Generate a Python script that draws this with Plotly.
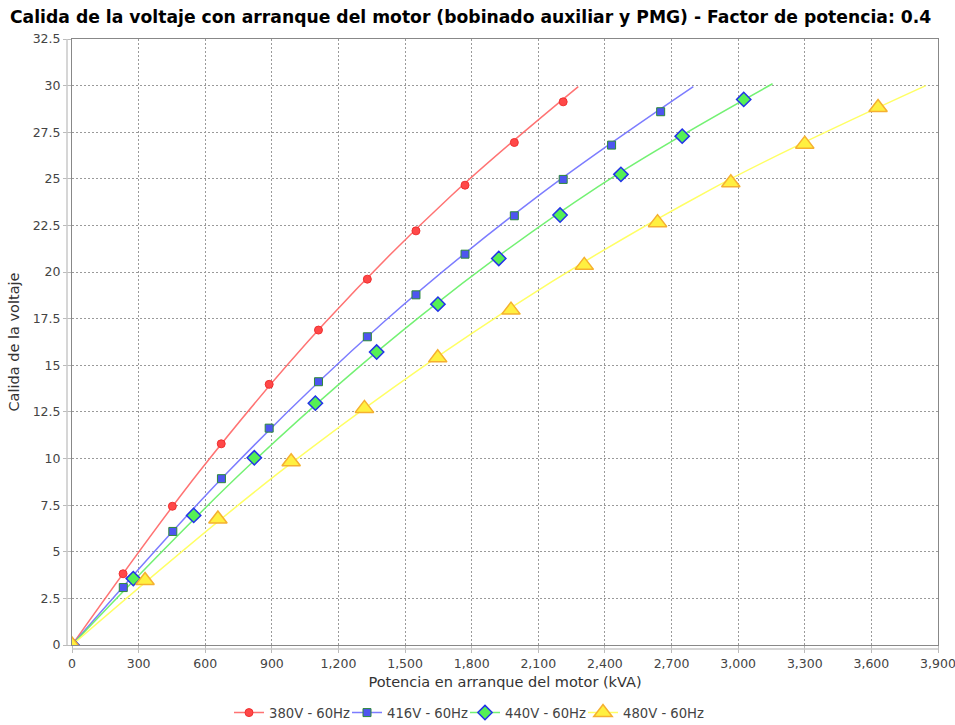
import plotly.graph_objects as go

# ---- data ----
series_names = ["380V - 60Hz", "416V - 60Hz", "440V - 60Hz", "480V - 60Hz"]

x_380 = [0, 230, 452, 672, 888, 1110, 1330, 1549, 1770, 1992, 2212]
y_380 = [0, 3.82, 7.44, 10.79, 13.98, 16.89, 19.62, 22.21, 24.66, 26.95, 29.13]

x_416 = [0, 231, 454, 673, 888, 1110, 1330, 1549, 1770, 1992, 2212, 2430, 2651]
y_416 = [0, 3.08, 6.09, 8.92, 11.63, 14.12, 16.53, 18.78, 20.96, 23.02, 24.97, 26.81, 28.60]

x_440 = [0, 276, 548, 821, 1096, 1372, 1648, 1922, 2198, 2472, 2748, 3025]
y_440 = [0, 3.56, 6.95, 10.04, 12.97, 15.71, 18.28, 20.73, 23.06, 25.24, 27.29, 29.26]

x_480 = [0, 329, 657, 987, 1317, 1647, 1977, 2307, 2637, 2967, 3300, 3630]
y_480 = [0, 3.46, 6.76, 9.83, 12.69, 15.40, 17.96, 20.36, 22.65, 24.79, 26.86, 28.83]

# trend curves
cx_380 = [0, 570, 1140, 1710, 2280]
cy_380 = [0, 9.25, 17.29, 24.12, 29.95]
cx_416 = [0, 700, 1400, 2100, 2798]
cy_416 = [0, 9.25, 17.28, 24.09, 29.95]
cx_440 = [0, 789, 1578, 2366, 3155]
cy_440 = [0, 9.53, 17.72, 24.56, 30.10]
cx_480 = [0, 961, 1922, 2884, 3845]
cy_480 = [0, 9.51, 17.67, 24.48, 30.0]

x_ticks = list(range(0, 3901, 300))
y_ticks = [i * 2.5 for i in range(14)]

# ---- styles ----
FONT = "DejaVu Sans"
line_colors = ["rgba(255,100,100,0.9)", "rgba(110,110,255,0.9)", "rgba(100,240,100,0.9)", "rgba(255,255,100,1)"]
fill_colors = ["#FF4848", "#4E55F0", "#55F055", "#FFF040"]
edge_colors = ["#F03030", "#2E8A3A", "#2233E8", "#F5B030"]
symbols = ["circle", "square", "diamond", "triangle-up"]
sizes = [8, 8, 11, 16]
edge_w = [1, 1, 1.5, 1.5]
legend_widths = [73, 73, 73, 92]

pts = [(x_380, y_380), (x_416, y_416), (x_440, y_440), (x_480, y_480)]
curves = [(cx_380, cy_380), (cx_416, cy_416), (cx_440, cy_440), (cx_480, cy_480)]

fig = go.Figure()
for i in range(4):
    cx, cy = curves[i]
    fig.add_trace(go.Scatter(x=cx, y=cy, mode="lines", line=dict(color=line_colors[i], width=1.5, shape="spline"),
                             showlegend=False, hoverinfo="skip"))
for i in range(4):
    px, py = pts[i]
    fig.add_trace(go.Scatter(x=px, y=py, mode="markers", showlegend=False,
                             marker=dict(symbol=symbols[i], size=sizes[i], color=fill_colors[i],
                                         line=dict(color=edge_colors[i], width=edge_w[i]))))
# legend entries
for i in range(4):
    fig.add_trace(go.Scatter(x=[None], y=[None], mode="lines+markers", name=series_names[i],
                             legendwidth=legend_widths[i],
                             line=dict(color=line_colors[i], width=1.5),
                             marker=dict(symbol=symbols[i], size=sizes[i], color=fill_colors[i],
                                         line=dict(color=edge_colors[i], width=edge_w[i]))))

PLOT_W, PLOT_H = 866, 606
grid = dict(showgrid=True, gridcolor="#9a9a9a", griddash="2px,2px", gridwidth=1)
fig.update_layout(
    width=955, height=725,
    margin=dict(l=72, r=17, t=39, b=80, autoexpand=False),
    paper_bgcolor="white", plot_bgcolor="white",
    font=dict(family=FONT, color="#444444"),
    title=dict(text="<b>Calida de la voltaje con arranque del motor (bobinado auxiliar y PMG) - Factor de potencia: 0.4</b>",
               x=10 / 955, xanchor="left", xref="container", y=1 - 17 / 725, yanchor="middle",
               font=dict(family=FONT, size=17.2, color="#000000")),
    xaxis=dict(range=[0, 3900], tickvals=x_ticks, tickformat=",d", zeroline=False, automargin=False,
               ticklabeloverflow="allow",
               showline=True, linecolor="#888888", mirror=True, ticks="outside", ticklen=7, tickcolor="#bbbbbb",
               tickfont=dict(size=12.5, color="#444444"),
               title=dict(text="Potencia en arranque del motor (kVA)", font=dict(size=14.5, color="#333333"), standoff=6),
               **grid),
    yaxis=dict(range=[0, 32.5], tickvals=y_ticks, zeroline=False, automargin=False,
               showline=True, linecolor="#888888", mirror=True, ticks="outside", ticklen=8, tickcolor="#bbbbbb",
               tickfont=dict(size=12.5, color="#444444"),
               title=dict(text="Calida de la voltaje", font=dict(size=14.5, color="#333333"), standoff=9),
               **grid),
    legend=dict(orientation="h", x=(254 - 25 - 72) / PLOT_W, xanchor="left", y=-(713 - 645) / PLOT_H, yanchor="middle",
                font=dict(size=13.2, color="#444444"), itemwidth=30, tracegroupgap=0,
                entrywidthmode="pixels",
                bgcolor="rgba(0,0,0,0)"),
    shapes=[
        dict(type="line", xref="paper", yref="paper", x0=-5 / PLOT_W, x1=-5 / PLOT_W, y0=0, y1=1,
             line=dict(color="#c8c8c8", width=1.5)),
        dict(type="line", xref="paper", yref="paper", x0=0, x1=1, y0=-4 / PLOT_H, y1=-4 / PLOT_H,
             line=dict(color="#c8c8c8", width=1.5)),
    ],
)

fig.write_html("out.html", config={"displayModeBar": False},
               post_script="document.body.style.margin='0';")
